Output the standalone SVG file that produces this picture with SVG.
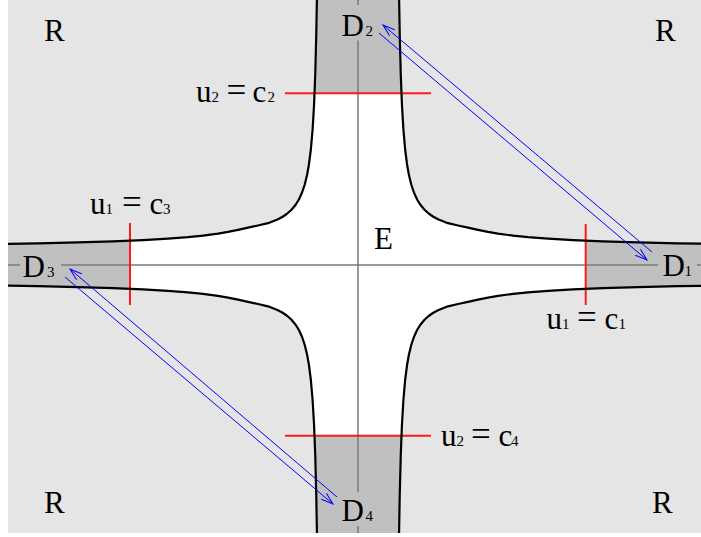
<svg xmlns="http://www.w3.org/2000/svg" width="701" height="537" viewBox="0 0 701 537">
<style>
.lbl{font-family:"Liberation Serif","Times New Roman",serif;font-size:31px;fill:#000}
.sub{font-size:15px}
.eq{font-size:35px}
.axis{stroke:#7a7a7a;stroke-width:1.5;fill:none}
.cut{stroke:#ff1a1a;stroke-width:2;fill:none}
.edge{stroke:#000;stroke-width:2.2;fill:none;stroke-linejoin:round}
.arr{stroke:#0000ff;stroke-width:1;fill:none;marker-end:url(#ah)}
.dark{fill:#c0c0c0}
.white{fill:#ffffff}
</style>
<defs>
<marker id="ah" markerUnits="userSpaceOnUse" markerWidth="16" markerHeight="12" viewBox="-14 -6 16 12" refX="0" refY="0" orient="auto">
<path d="M-12,-4 L0,0 L-12,4" fill="none" stroke="#0000ff" stroke-width="1"/>
</marker>
<path id="qc" d="M40.91,-280 L41.13,-264.5 L41.74,-230 L42.77,-190 L43.94,-160 L45.41,-135 L47.17,-115 L49.1,-100 L50.88,-90 L53.32,-80 L56.01,-72 L59.25,-65 L62.36,-60 L66.5,-55 L70.96,-51 L75.33,-48 L80,-45.47 L90,-41.57 L100,-39.26 L110,-37.1 L120,-34.9 L130,-32.8 L140,-31.1 L155,-29.11 L170,-27.62 L190,-26.1 L215,-24.68 L245,-23.42 L280,-22.35 L320,-21.45 L360,-20.8"/>
<path id="qf" d="M-3,-280 L40.91,-280 L41.13,-264.5 L41.74,-230 L42.77,-190 L43.94,-160 L45.41,-135 L47.17,-115 L49.1,-100 L50.88,-90 L53.32,-80 L56.01,-72 L59.25,-65 L62.36,-60 L66.5,-55 L70.96,-51 L75.33,-48 L80,-45.47 L90,-41.57 L100,-39.26 L110,-37.1 L120,-34.9 L130,-32.8 L140,-31.1 L155,-29.11 L170,-27.62 L190,-26.1 L215,-24.68 L245,-23.42 L280,-22.35 L320,-21.45 L360,-20.8 L360,3 L-3,3 Z"/>
<clipPath id="frame"><rect x="8" y="0" width="693" height="533"/></clipPath>
<clipPath id="mid"><rect x="130" y="93" width="455.5" height="342.5"/></clipPath>
</defs>

<g id="regions" clip-path="url(#frame)">
<rect x="8" y="0" width="693" height="533" fill="#e5e5e5"/>
<g transform="translate(358,264.75)" class="dark">
<use href="#qf"/>
<use href="#qf" transform="scale(-1,1)"/>
<use href="#qf" transform="scale(1,-1)"/>
<use href="#qf" transform="scale(-1,-1)"/>
</g>
<g clip-path="url(#mid)">
<g transform="translate(358,264.75)" class="white">
<use href="#qf"/>
<use href="#qf" transform="scale(-1,1)"/>
<use href="#qf" transform="scale(1,-1)"/>
<use href="#qf" transform="scale(-1,-1)"/>
</g>
</g>
<g id="axes" class="axis">
<path d="M8,265 H20 M61,265 H658 M697,265 H701"/>
<path d="M358,0 V5 M358,40.5 V492 M358,526 V533"/>
</g>
<g id="cuts" class="cut">
<path d="M285,93.3 H431"/>
<path d="M285,435.7 H431"/>
<path d="M130,223 V305"/>
<path d="M585.7,224 V305"/>
</g>
<g id="boundary" transform="translate(358,264.75)" class="edge">
<use href="#qc"/>
<use href="#qc" transform="scale(-1,1)"/>
<use href="#qc" transform="scale(1,-1)"/>
<use href="#qc" transform="scale(-1,-1)"/>
</g>
</g>

<g id="connectors">
<line class="arr" x1="652" y1="252" x2="383" y2="25"/>
<line class="arr" x1="379" y1="33" x2="647" y2="260"/>
<line class="arr" x1="337" y1="497" x2="70" y2="269"/>
<line class="arr" x1="65" y1="277" x2="333" y2="504"/>
</g>

<g id="R-tl"><text class="lbl" x="44" y="41">R</text></g>
<g id="R-tr"><text class="lbl" x="655" y="41">R</text></g>
<g id="R-bl"><text class="lbl" x="44" y="513">R</text></g>
<g id="R-br"><text class="lbl" x="652" y="513">R</text></g>
<g id="E"><text class="lbl" x="374" y="249">E</text></g>

<g id="D1"><text class="lbl" x="662.5" y="276">D<tspan class="sub" x="684.5" y="276">1</tspan></text></g>
<g id="D2"><text class="lbl" x="341.5" y="36">D<tspan class="sub" x="365.5" y="36">2</tspan></text></g>
<g id="D3"><text class="lbl" x="22.5" y="277">D<tspan class="sub" x="47" y="277">3</tspan></text></g>
<g id="D4"><text class="lbl" x="341.5" y="521">D<tspan class="sub" x="365.5" y="521">4</tspan></text></g>

<g id="cut-u2c2"><text class="lbl" x="196" y="102">u<tspan class="sub" x="211.5" y="102">2</tspan><tspan class="eq" x="226.5" y="102">=</tspan><tspan x="252.5" y="102">c</tspan><tspan class="sub" x="267.5" y="102">2</tspan></text></g>
<g id="cut-u2c4"><text class="lbl" x="441" y="446">u<tspan class="sub" x="456.5" y="446">2</tspan><tspan class="eq" x="471" y="446">=</tspan><tspan x="498.5" y="446">c</tspan><tspan class="sub" x="511" y="446">4</tspan></text></g>
<g id="cut-u1c3"><text class="lbl" x="90" y="214">u<tspan class="sub" x="105.5" y="214">1</tspan><tspan class="eq" x="122" y="214">=</tspan><tspan x="149.5" y="214">c</tspan><tspan class="sub" x="163" y="214">3</tspan></text></g>
<g id="cut-u1c1"><text class="lbl" x="546.5" y="329">u<tspan class="sub" x="562" y="329">1</tspan><tspan class="eq" x="577" y="329">=</tspan><tspan x="604.5" y="329">c</tspan><tspan class="sub" x="618.5" y="329">1</tspan></text></g>
</svg>
